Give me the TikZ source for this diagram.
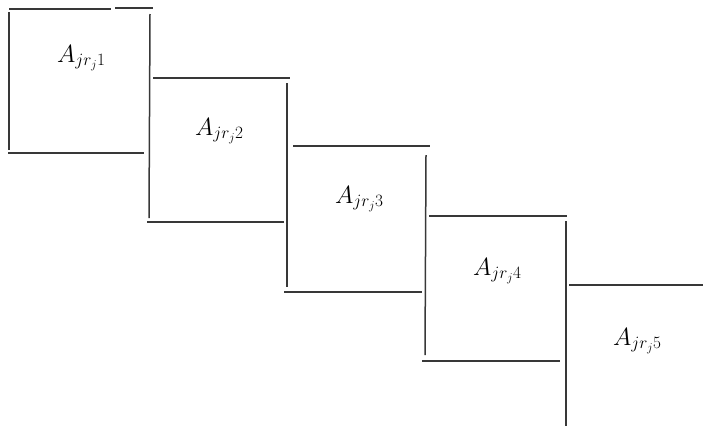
\documentclass[tikz,border=0pt]{standalone}
\begin{document}
\begin{tikzpicture}[x=1pt,y=-1pt,
  seg/.style={draw=black!78,line width=1.5pt},
  lab/.style={anchor=base west,inner sep=0pt,font=\fontsize{23}{27}\selectfont}]
\useasboundingbox (0,0) rectangle (703,426);
% block 1
\draw[seg] (9,9) -- (111,9);
\draw[seg] (115,8) -- (153,8);
\draw[seg] (9,12) -- (9,150);
\draw[seg] (8,153) -- (144,153);
\draw[seg] (150,14) -- (149,218);
% block 2
\draw[seg] (153,78) -- (290,78);
\draw[seg] (147,222) -- (284,222);
\draw[seg] (287,83) -- (287,287);
% block 3
\draw[seg] (293,146) -- (430,146);
\draw[seg] (284,292) -- (422,292);
\draw[seg] (426,155) -- (425,355);
% block 4
\draw[seg] (429,216) -- (567,216);
\draw[seg] (422,361) -- (560,361);
\draw[seg] (566,221) -- (566,426);
% block 5
\draw[seg] (569,285) -- (703,285);
% labels
\node[lab] (l1) at (57,62) {$A_{jr_j1}$};
\node[lab] (l2) at (195,135) {$A_{jr_j2}$};
\node[lab] (l3) at (335,203) {$A_{jr_j3}$};
\node[lab] (l4) at (473,275) {$A_{jr_j4}$};
\node[lab] (l5) at (613,345) {$A_{jr_j5}$};
\end{tikzpicture}
\end{document}
